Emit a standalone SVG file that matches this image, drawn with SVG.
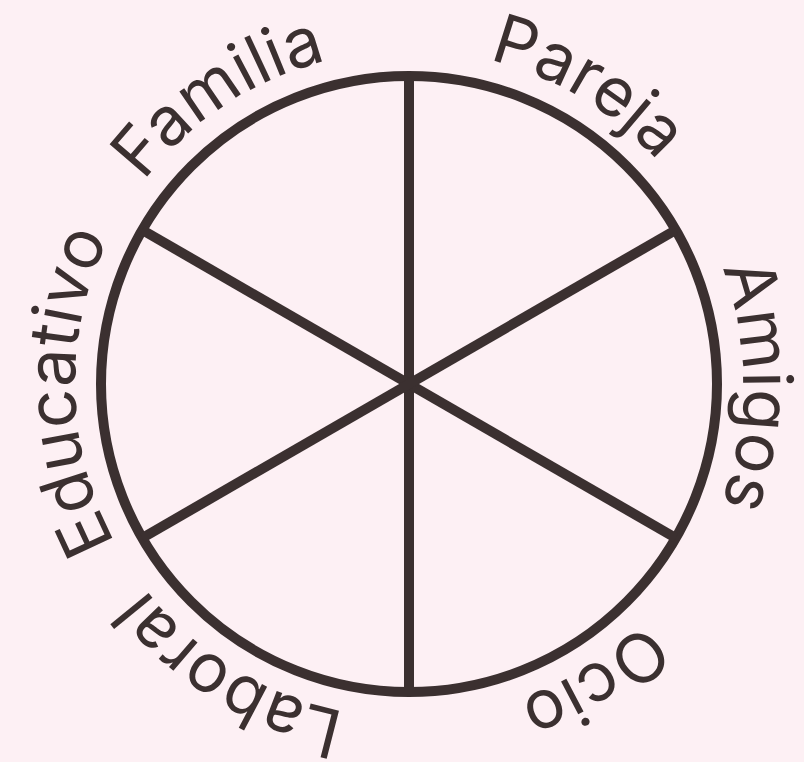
<svg xmlns="http://www.w3.org/2000/svg" xmlns:xlink="http://www.w3.org/1999/xlink" width="804" height="762" viewBox="0 0 804 762">
<style>
.ln{stroke:#3b3030;stroke-width:10;fill:none;stroke-linecap:butt}
.lb{font-family:Inter,"Noto Sans","DejaVu Sans",sans-serif;font-size:68px;fill:#3b3030;text-anchor:middle}
</style>
<defs>
<path id="ring" d="M409,50 A334,334 0 0 1 409,718 A334,334 0 0 1 409,50"/>
</defs>
<rect width="804" height="762" fill="#fdf0f4"/>
<g id="wheel">
<circle class="ln" cx="409" cy="384" r="308"/>
</g>
<g id="connectors">
<line class="ln" x1="409" y1="76" x2="409" y2="692"/>
<line class="ln" x1="142.3" y1="230" x2="675.7" y2="538"/>
<line class="ln" x1="142.3" y1="538" x2="675.7" y2="230"/>
</g>
<g id="pareja"><text class="lb"><textPath xlink:href="#ring" startOffset="180.7">Pareja</textPath></text></g>
<g id="amigos"><text class="lb"><textPath xlink:href="#ring" startOffset="526">Amigos</textPath></text></g>
<g id="ocio"><text class="lb"><textPath xlink:href="#ring" startOffset="863">Ocio</textPath></text></g>
<g id="laboral"><text class="lb"><textPath xlink:href="#ring" startOffset="1233">Laboral</textPath></text></g>
<g id="educativo"><text class="lb"><textPath xlink:href="#ring" startOffset="1566">Educativo</textPath></text></g>
<g id="familia"><text class="lb"><textPath xlink:href="#ring" startOffset="1903">Familia</textPath></text></g>
</svg>
